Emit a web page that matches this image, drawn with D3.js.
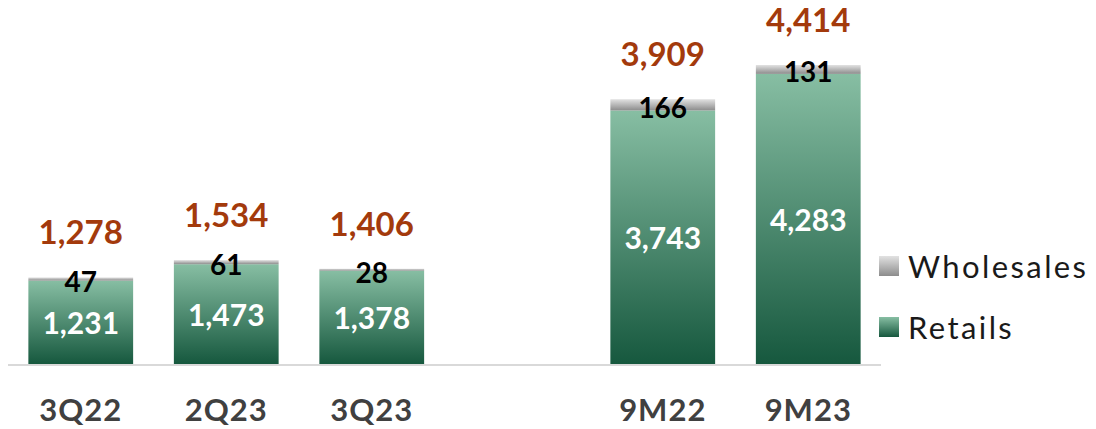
<!DOCTYPE html>
<html>
<head>
<meta charset="utf-8">
<script src="https://cdn.jsdelivr.net/npm/d3@7"></script>
<style>
  html, body { margin: 0; padding: 0; background: #fff; }
  svg { display: block; font-family: Lato, "Noto Sans", sans-serif; }
</style>
</head>
<body>
<div id="chart"></div>
<script>
// Data
const categories = ["3Q22", "2Q23", "3Q23", "", "9M22", "9M23"];
const retails = [1231, 1473, 1378, null, 3743, 4283];
const wholesales = [47, 61, 28, null, 166, 131];
const totals = [1278, 1534, 1406, null, 3909, 4414];
const seriesNames = ["Wholesales", "Retails"];

const width = 1096, height = 429;
const fmt = d3.format(",");

const svg = d3.select("#chart").append("svg")
    .attr("width", width)
    .attr("height", height);

// Gradients
const defs = svg.append("defs");
const greenGrad = defs.append("linearGradient")
    .attr("id", "greenGrad").attr("x1", 0).attr("y1", 0).attr("x2", 0).attr("y2", 1);
greenGrad.append("stop").attr("offset", "0%").attr("stop-color", "#87bea3");
greenGrad.append("stop").attr("offset", "100%").attr("stop-color", "#16583e");

const greyGrad = defs.append("linearGradient")
    .attr("id", "greyGrad").attr("x1", 0).attr("y1", 0).attr("x2", 0).attr("y2", 1);
greyGrad.append("stop").attr("offset", "0%").attr("stop-color", "#e2e2e2");
greyGrad.append("stop").attr("offset", "100%").attr("stop-color", "#8c8c8c");

// Scales
const x = d3.scaleBand()
    .domain(categories)
    .range([8, 881])
    .paddingInner(0.28)
    .paddingOuter(0.14);

const y = d3.scaleLinear()
    .domain([0, 4414])
    .range([364, 65]);

const rows = categories.map((c, i) => ({
    cat: c, retail: retails[i], wholesale: wholesales[i], total: totals[i]
})).filter(d => d.retail !== null);

// Baseline
svg.append("line")
    .attr("x1", 8).attr("x2", 881)
    .attr("y1", y(0) + 1).attr("y2", y(0) + 1)
    .attr("stroke", "#d9d9d9")
    .attr("stroke-width", 2);

const bars = svg.selectAll(".bar")
    .data(rows)
    .enter()
    .append("g")
    .attr("class", "bar");

// Retail segment
bars.append("rect")
    .attr("x", d => x(d.cat))
    .attr("width", x.bandwidth())
    .attr("y", d => y(d.retail))
    .attr("height", d => y(0) - y(d.retail))
    .attr("fill", "url(#greenGrad)");

// Wholesale segment
bars.append("rect")
    .attr("x", d => x(d.cat))
    .attr("width", x.bandwidth())
    .attr("y", d => y(d.retail + d.wholesale))
    .attr("height", d => y(d.retail) - y(d.retail + d.wholesale))
    .attr("fill", "url(#greyGrad)");

// Retail labels
bars.append("text")
    .attr("x", d => x(d.cat) + x.bandwidth() / 2)
    .attr("y", d => (y(0) + y(d.retail)) / 2)
    .attr("text-anchor", "middle")
    .attr("dominant-baseline", "central")
    .attr("fill", "#ffffff")
    .style("font-size", "30px")
    .style("font-weight", "700")
    .text(d => fmt(d.retail));

// Wholesale labels
bars.append("text")
    .attr("x", d => x(d.cat) + x.bandwidth() / 2)
    .attr("y", d => (y(d.retail) + y(d.retail + d.wholesale)) / 2 + 2)
    .attr("text-anchor", "middle")
    .attr("dominant-baseline", "central")
    .attr("fill", "#000000")
    .style("font-size", "28px")
    .style("font-weight", "700")
    .text(d => fmt(d.wholesale));

// Total labels
bars.append("text")
    .attr("x", d => x(d.cat) + x.bandwidth() / 2)
    .attr("y", d => y(d.total) - 46)
    .attr("text-anchor", "middle")
    .attr("dominant-baseline", "central")
    .attr("fill", "#a33a0c")
    .style("font-size", "33px")
    .style("font-weight", "700")
    .text(d => fmt(d.total));

// Category axis
const xAxis = svg.append("g")
    .attr("transform", `translate(0,${y(0)})`)
    .call(d3.axisBottom(x).tickSize(0).tickPadding(0));
xAxis.select(".domain").remove();
xAxis.selectAll("text")
    .attr("y", 45)
    .attr("dy", null)
    .attr("dominant-baseline", "central")
    .attr("fill", "#404040")
    .style("font-family", "Lato, 'Noto Sans', sans-serif")
    .style("font-size", "31px")
    .style("font-weight", "700")
    .style("letter-spacing", "1px");

// Legend
const legend = svg.selectAll(".legend")
    .data(seriesNames)
    .enter()
    .append("g")
    .attr("class", "legend")
    .attr("transform", (d, i) => `translate(879,${256 + i * 61})`);

legend.append("rect")
    .attr("width", 20)
    .attr("height", 20)
    .attr("fill", (d, i) => i === 0 ? "url(#greyGrad)" : "url(#greenGrad)");

legend.append("text")
    .attr("x", 29)
    .attr("y", 10)
    .attr("dominant-baseline", "central")
    .attr("fill", "#1a1a1a")
    .style("font-size", "31px")
    .style("letter-spacing", "2.4px")
    .text(d => d);
</script>
</body>
</html>
